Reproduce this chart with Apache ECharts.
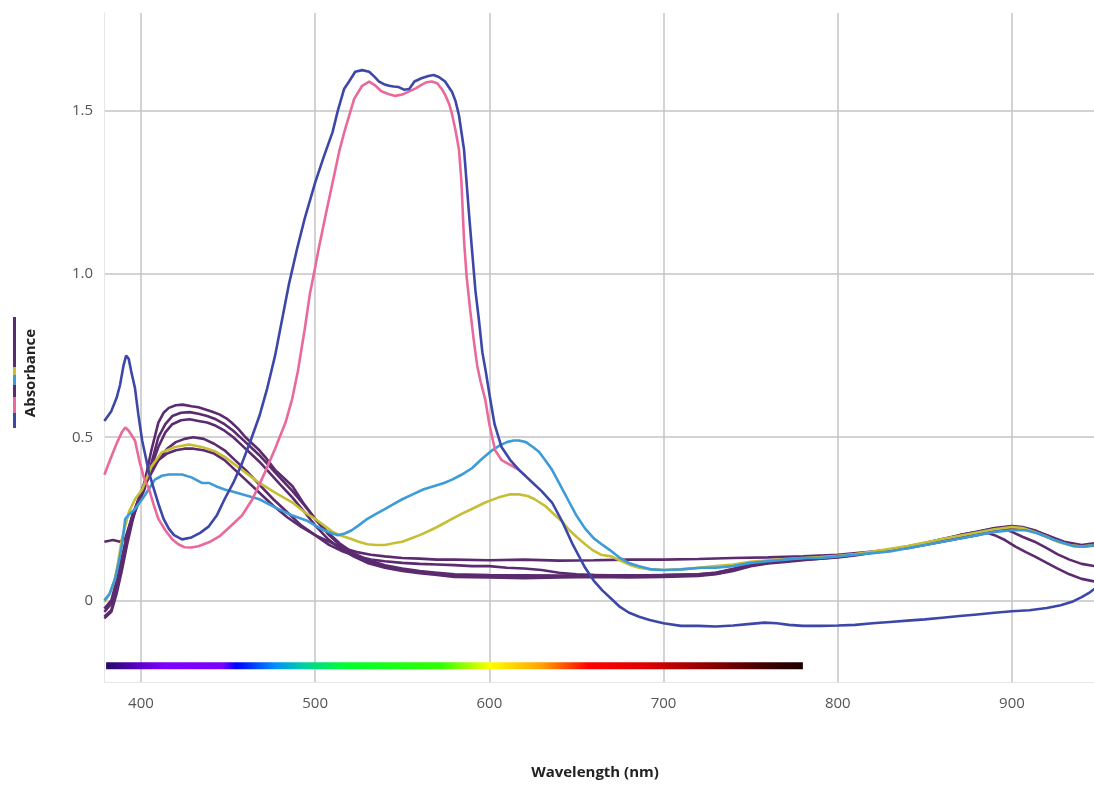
<!DOCTYPE html>
<html>
<head>
<meta charset="utf-8">
<script src="https://cdn.jsdelivr.net/npm/echarts@6/dist/echarts.min.js"></script>
<style>
  html, body { margin: 0; padding: 0; background: #ffffff; }
  #chart { width: 1094px; height: 785px; }
</style>
</head>
<body>
<div id="chart"></div>
<script>
// Absorbance spectra, [wavelength nm, absorbance]
const blueAbs = [[379,0.55],[383,0.58],[386,0.62],[388,0.66],[390,0.72],[391.5,0.75],[393,0.74],[394.5,0.70],[396.6,0.65],[398.5,0.57],[400.7,0.49],[402.7,0.44],[404.7,0.39],[407.5,0.34],[410.4,0.29],[413,0.25],[416,0.22],[419,0.20],[423.6,0.187],[429,0.193],[434,0.207],[439,0.227],[443.5,0.26],[448,0.31],[453,0.36],[458,0.42],[463,0.49],[468,0.565],[472.5,0.65],[477,0.75],[481,0.86],[485,0.97],[489.6,1.077],[494,1.17],[500,1.28],[505,1.36],[510,1.435],[513,1.50],[516.6,1.567],[519.5,1.59],[523,1.62],[527,1.625],[531,1.62],[534,1.605],[536.7,1.59],[539.5,1.582],[542.5,1.577],[545,1.575],[548,1.573],[551,1.565],[554,1.567],[557,1.59],[561,1.60],[565,1.607],[568,1.61],[571,1.604],[574.6,1.59],[578.6,1.558],[580.6,1.53],[582.6,1.485],[585.5,1.38],[588.4,1.18],[590,1.077],[592,0.95],[594,0.86],[596,0.76],[598,0.70],[600.4,0.62],[603,0.54],[607,0.47],[612,0.43],[617,0.40],[621,0.38],[625,0.36],[630,0.335],[636,0.30],[642,0.24],[648,0.17],[652,0.13],[655,0.10],[660,0.06],[665,0.03],[670,0.005],[675,-0.02],[680,-0.037],[686,-0.05],[692,-0.06],[700,-0.07],[710,-0.078],[720,-0.078],[730,-0.08],[740,-0.077],[750,-0.072],[758,-0.068],[765,-0.07],[772,-0.075],[780,-0.078],[790,-0.078],[800,-0.077],[810,-0.075],[820,-0.07],[830,-0.066],[840,-0.062],[850,-0.058],[860,-0.053],[870,-0.048],[880,-0.043],[890,-0.038],[900,-0.033],[910,-0.03],[920,-0.023],[928,-0.015],[935,-0.003],[940,0.01],[944,0.022],[947.5,0.036]];

const pinkAbs = [[379,0.385],[383,0.44],[386,0.48],[389,0.515],[391,0.53],[393,0.52],[396.6,0.49],[399,0.43],[401.5,0.38],[404.7,0.34],[407.5,0.29],[410,0.25],[414,0.215],[418,0.187],[421.5,0.172],[425,0.163],[429,0.162],[433,0.166],[439,0.178],[445,0.196],[451,0.225],[458,0.26],[464,0.31],[471,0.39],[477,0.465],[483,0.545],[486.8,0.617],[490,0.70],[494,0.83],[497,0.94],[500,1.02],[502,1.077],[506,1.18],[510,1.28],[514,1.38],[517,1.44],[519.5,1.485],[522.4,1.537],[527,1.577],[531,1.59],[534,1.58],[538,1.56],[542,1.552],[546,1.546],[550,1.55],[554,1.56],[558,1.57],[561,1.58],[564,1.588],[567,1.59],[570,1.585],[573,1.565],[575,1.545],[577,1.52],[578.6,1.49],[580.6,1.44],[582.6,1.38],[584,1.28],[585.5,1.10],[587,0.99],[589,0.89],[591,0.80],[593,0.72],[595,0.67],[597.6,0.617],[600,0.54],[603.3,0.46],[607,0.43],[612,0.415],[617,0.40],[621,0.38]];

const lightBlueAbs = [[379,0.0],[382,0.02],[385,0.064],[387,0.11],[389,0.165],[391,0.25],[393.5,0.265],[396.6,0.28],[402,0.32],[408,0.37],[412,0.382],[416,0.386],[423.6,0.386],[429,0.377],[435,0.36],[439,0.36],[443,0.35],[448,0.34],[453,0.333],[458,0.325],[463,0.318],[468,0.31],[477,0.285],[487,0.26],[495,0.245],[500,0.23],[505,0.215],[510,0.205],[513,0.20],[517,0.205],[521,0.215],[525,0.23],[530,0.25],[535,0.265],[540,0.28],[545,0.295],[550,0.31],[556,0.325],[562,0.34],[568,0.35],[574,0.36],[578.6,0.37],[584,0.385],[590,0.405],[596,0.435],[601.6,0.46],[606,0.475],[610,0.485],[614,0.49],[617,0.49],[621,0.485],[625,0.47],[628.6,0.455],[632,0.43],[636,0.40],[640,0.36],[645,0.31],[650,0.26],[655,0.22],[660,0.19],[665,0.17],[669,0.155],[675,0.13],[680,0.115],[686,0.105],[693,0.095],[700,0.093],[710,0.095],[722,0.10],[730,0.10],[740,0.105],[750,0.115],[760,0.12],[770,0.125],[780,0.13],[790,0.13],[800,0.135],[810,0.14],[820,0.145],[830,0.15],[840,0.16],[850,0.17],[860,0.18],[870,0.19],[880,0.20],[890,0.21],[900,0.215],[908,0.215],[915,0.205],[922,0.19],[930,0.175],[936,0.165],[942,0.165],[947.5,0.17]];

const yellowAbs = [[379,-0.005],[382,0.02],[385,0.064],[387,0.12],[389,0.187],[393,0.27],[396.6,0.31],[400.7,0.34],[406,0.41],[412,0.454],[419.6,0.47],[427.6,0.478],[435,0.47],[442.6,0.457],[448,0.44],[453,0.42],[458,0.40],[468,0.36],[477,0.33],[487,0.30],[494,0.27],[500,0.25],[505,0.23],[510,0.21],[515,0.198],[520,0.19],[525,0.18],[530,0.172],[535,0.17],[540,0.17],[545,0.175],[550,0.18],[555,0.19],[560,0.20],[565,0.212],[570,0.225],[578.6,0.25],[584,0.265],[590,0.28],[597.6,0.30],[605,0.315],[612,0.325],[617,0.325],[622,0.32],[626,0.31],[632,0.29],[637,0.265],[642,0.24],[646,0.215],[650,0.195],[655,0.172],[659,0.155],[664,0.14],[670,0.135],[676,0.12],[681,0.108],[686,0.10],[693,0.095],[700,0.093],[710,0.095],[720,0.10],[730,0.105],[740,0.11],[750,0.118],[760,0.123],[770,0.127],[780,0.13],[790,0.133],[800,0.137],[810,0.142],[820,0.15],[830,0.158],[840,0.167],[850,0.177],[860,0.188],[870,0.198],[880,0.208],[890,0.218],[900,0.225],[906,0.222],[913,0.21],[920,0.195],[926,0.18],[933,0.17],[940,0.165],[947.5,0.17]];

const purpleAbsA = [[379,-0.055],[383,-0.035],[386,0.02],[389,0.09],[392,0.17],[395,0.24],[398,0.30],[402,0.36],[406,0.46],[410,0.545],[413,0.575],[416,0.59],[420,0.598],[424,0.60],[429,0.595],[433,0.592],[437,0.585],[441,0.578],[445,0.57],[449,0.558],[452,0.545],[456,0.525],[460,0.50],[464,0.48],[468,0.46],[472,0.435],[477,0.40],[482,0.375],[487,0.35],[493,0.30],[500,0.25],[508,0.20],[515,0.165],[522,0.14],[530,0.12],[540,0.105],[550,0.095],[560,0.088],[570,0.08],[580,0.076],[600,0.074],[620,0.072],[640,0.073],[660,0.075],[680,0.073],[700,0.074],[720,0.077],[730,0.082],[740,0.093],[750,0.107],[760,0.115],[770,0.12],[780,0.125],[790,0.128],[800,0.133],[810,0.14],[820,0.148],[830,0.155],[840,0.163],[850,0.172],[860,0.182],[870,0.195],[880,0.205],[884,0.21],[890,0.20],[896,0.185],[902,0.165],[908,0.148],[913,0.135],[920,0.115],[926,0.098],[933,0.08],[940,0.066],[947.5,0.058]];

const purpleAbsB = [[379,-0.05],[383,-0.03],[386,0.03],[389,0.11],[392,0.19],[395,0.25],[398,0.29],[402,0.34],[406,0.42],[410,0.50],[414,0.54],[418,0.565],[423,0.575],[428,0.577],[433,0.572],[438,0.565],[443,0.555],[448,0.54],[453,0.52],[458,0.495],[463,0.47],[468,0.445],[474,0.41],[480,0.375],[487,0.335],[494,0.29],[500,0.25],[507,0.21],[514,0.175],[522,0.145],[530,0.125],[540,0.108],[550,0.098],[560,0.09],[570,0.085],[580,0.08],[600,0.078],[620,0.077],[640,0.076],[660,0.078],[680,0.076],[700,0.078],[720,0.08],[730,0.085],[740,0.097],[750,0.11],[760,0.118],[770,0.122],[780,0.126],[790,0.13],[800,0.134],[810,0.14],[820,0.147],[830,0.155],[840,0.163],[850,0.173],[860,0.184],[870,0.196],[880,0.207],[890,0.217],[894,0.22],[900,0.21],[906,0.195],[913,0.18],[920,0.16],[926,0.142],[933,0.125],[940,0.112],[947.5,0.105]];

const purpleAbsC = [[379,-0.035],[383,-0.01],[386,0.05],[389,0.12],[392,0.20],[395,0.255],[398,0.30],[402,0.35],[406,0.41],[410,0.47],[414,0.515],[418,0.54],[423,0.552],[428,0.555],[433,0.55],[438,0.545],[443,0.535],[448,0.52],[453,0.50],[458,0.475],[463,0.45],[468,0.425],[474,0.39],[480,0.355],[487,0.315],[494,0.27],[500,0.23],[507,0.19],[514,0.16],[522,0.135],[530,0.115],[540,0.10],[550,0.09],[560,0.083],[570,0.078],[580,0.072],[600,0.07],[620,0.068],[640,0.07],[660,0.072],[680,0.07],[700,0.072],[720,0.075],[730,0.08],[740,0.09],[750,0.105],[760,0.113],[770,0.118],[780,0.123],[790,0.128],[800,0.132],[810,0.138],[820,0.146],[830,0.155],[840,0.165],[850,0.175],[860,0.187],[870,0.20],[880,0.21],[890,0.222],[900,0.228],[906,0.225],[913,0.215],[920,0.20],[926,0.185],[933,0.172],[940,0.165],[947.5,0.168]];

const purpleAbsD = [[379,-0.025],[383,0.0],[386,0.06],[389,0.13],[392,0.20],[395,0.26],[398,0.30],[402,0.35],[406,0.39],[410,0.43],[415,0.465],[420,0.485],[425,0.495],[430,0.50],[436,0.495],[442,0.48],[448,0.46],[454,0.43],[460,0.40],[468,0.355],[476,0.31],[484,0.27],[492,0.23],[500,0.20],[508,0.17],[516,0.15],[524,0.135],[532,0.125],[540,0.12],[550,0.115],[560,0.112],[570,0.11],[580,0.108],[590,0.105],[600,0.105],[610,0.10],[620,0.098],[630,0.093],[640,0.085],[650,0.08],[660,0.078],[680,0.077],[700,0.078],[720,0.08],[730,0.085],[740,0.095],[750,0.11],[760,0.118],[770,0.123],[780,0.127],[790,0.13],[800,0.135],[810,0.14],[820,0.148],[830,0.156],[840,0.165],[850,0.176],[860,0.188],[870,0.20],[880,0.21],[890,0.22],[900,0.226],[906,0.222],[913,0.21],[920,0.195],[926,0.182],[933,0.172],[940,0.166],[947.5,0.17]];

const purpleAbsE = [[379,0.18],[384,0.185],[388,0.18],[391,0.19],[394,0.24],[398,0.30],[402,0.36],[406,0.40],[410,0.43],[415,0.45],[420,0.46],[425,0.465],[430,0.465],[436,0.46],[442,0.45],[448,0.43],[454,0.40],[460,0.37],[468,0.33],[476,0.29],[484,0.255],[492,0.225],[500,0.20],[508,0.18],[516,0.16],[524,0.148],[532,0.14],[540,0.135],[550,0.13],[560,0.128],[570,0.125],[580,0.125],[600,0.123],[620,0.125],[640,0.122],[660,0.123],[680,0.125],[700,0.125],[720,0.127],[740,0.13],[760,0.132],[780,0.135],[800,0.14],[820,0.15],[840,0.16],[860,0.18],[880,0.20],[890,0.212],[900,0.22],[910,0.215],[920,0.20],[930,0.18],[940,0.17],[947.5,0.175]];

// visible spectrum strip
const spectrumRange = [380, 780];
const spectrumLevel = -0.2;

const xTicks = [400, 500, 600, 700, 800, 900];
const yTicks = [0, 0.5, 1.0, 1.5];

const PURPLE = '#5b2a6f';
const YELLOW = '#c6bf35';
const LIGHTBLUE = '#3d9bd8';
const PINK = '#e9699c';
const BLUE = '#3d47a8';

const chart = echarts.init(document.getElementById('chart'));

function lineSeries(name, data, color) {
  return {
    name: name,
    type: 'line',
    data: data,
    showSymbol: false,
    symbol: 'none',
    smooth: false,
    lineStyle: { color: color, width: 2.6 },
    itemStyle: { color: color },
    silent: true
  };
}

const option = {
  animation: false,
  backgroundColor: '#ffffff',
  grid: { left: 104, right: 0, top: 13, bottom: 102 },
  xAxis: {
    type: 'value',
    min: 378.8,
    max: 947.1,
    name: 'Wavelength (nm)',
    nameLocation: 'middle',
    nameGap: 83,
    nameTextStyle: { fontFamily: 'Open Sans', fontWeight: 'bold', fontSize: 15, color: '#222', padding: [0, 8, 0, 0] },
    axisLine: { show: true, onZero: false, lineStyle: { color: '#e6e6e6', width: 1 } },
    axisTick: { show: false, customValues: xTicks },
    axisLabel: { customValues: xTicks, margin: 14, fontFamily: 'Open Sans', fontSize: 15, color: '#555' },
    splitLine: { show: true, lineStyle: { color: '#c4c4c4', width: 1.5 } }
  },
  yAxis: {
    type: 'value',
    min: -0.25,
    max: 1.8,
    axisLine: { show: true, lineStyle: { color: '#e6e6e6', width: 1 } },
    axisTick: { show: false, customValues: yTicks },
    axisLabel: {
      customValues: yTicks,
      margin: 11,
      fontFamily: 'Open Sans',
      fontSize: 15,
      color: '#555',
      formatter: v => (v === 0 ? '0' : v.toFixed(1))
    },
    splitLine: { show: true, lineStyle: { color: '#c4c4c4', width: 1.5 } }
  },
  graphic: [
    {
      type: 'text',
      x: 31, y: 373,
      rotation: Math.PI / 2,
      style: { text: 'Absorbance', font: 'bold 15px "Open Sans"', fill: '#222', align: 'center', verticalAlign: 'middle' }
    },
    // colour key strip beside the axis title
    { type: 'rect', shape: { x: 13, y: 317, width: 3, height: 50 }, style: { fill: PURPLE } },
    { type: 'rect', shape: { x: 13, y: 367, width: 3, height: 8 }, style: { fill: YELLOW } },
    { type: 'rect', shape: { x: 13, y: 375, width: 3, height: 10 }, style: { fill: LIGHTBLUE } },
    { type: 'rect', shape: { x: 13, y: 385, width: 3, height: 12 }, style: { fill: PURPLE } },
    { type: 'rect', shape: { x: 13, y: 397, width: 3, height: 16 }, style: { fill: PINK } },
    { type: 'rect', shape: { x: 13, y: 413, width: 3, height: 15 }, style: { fill: BLUE } }
  ],
  series: [
    {
      name: 'spectrum',
      type: 'line',
      data: spectrumRange.map(w => [w, spectrumLevel]),
      symbol: 'none',
      silent: true,
      lineStyle: {
        width: 7,
        cap: 'butt',
        color: new echarts.graphic.LinearGradient(0, 0, 1, 0, [
          { offset: 0.00, color: '#1e0b5a' },
          { offset: 0.05, color: '#5a00c8' },
          { offset: 0.09, color: '#7f00ff' },
          { offset: 0.17, color: '#7a00ff' },
          { offset: 0.19, color: '#0000ff' },
          { offset: 0.245, color: '#0090ff' },
          { offset: 0.285, color: '#00d0a0' },
          { offset: 0.345, color: '#00ff30' },
          { offset: 0.48, color: '#30ff00' },
          { offset: 0.55, color: '#ffff00' },
          { offset: 0.625, color: '#ffa000' },
          { offset: 0.69, color: '#ff0000' },
          { offset: 0.77, color: '#e00000' },
          { offset: 0.86, color: '#900000' },
          { offset: 0.94, color: '#400000' },
          { offset: 1.00, color: '#1a0000' }
        ])
      }
    },
    lineSeries('Sample A', purpleAbsA, PURPLE),
    lineSeries('Sample B', purpleAbsB, PURPLE),
    lineSeries('Sample C', purpleAbsC, PURPLE),
    lineSeries('Sample D', purpleAbsD, PURPLE),
    lineSeries('Sample E', purpleAbsE, PURPLE),
    lineSeries('Sample F', yellowAbs, YELLOW),
    lineSeries('Sample G', lightBlueAbs, LIGHTBLUE),
    lineSeries('Sample H', pinkAbs, PINK),
    lineSeries('Sample I', blueAbs, BLUE)
  ]
};

chart.setOption(option);
</script>
</body>
</html>
